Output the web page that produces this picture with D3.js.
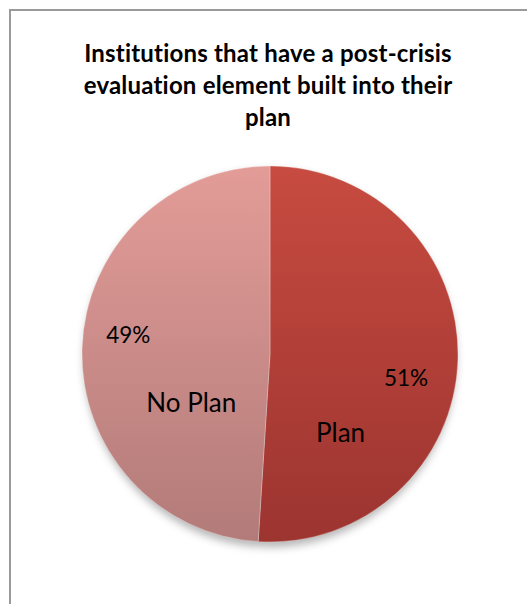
<!DOCTYPE html>
<html>
<head>
<meta charset="utf-8">
<script src="https://cdn.jsdelivr.net/npm/d3@7"></script>
<style>
  html, body { margin: 0; padding: 0; background: #fff; }
  svg { display: block; }
</style>
</head>
<body>
<svg id="chart" width="527" height="604"></svg>
<script>
// Survey result: share of institutions with a post-crisis evaluation in their plan
const categories = ["Plan", "No Plan"];
const values = [51, 49];
const titleLines = ["Institutions that have a post-crisis", "evaluation element built into their", "plan"];

const svg = d3.select("#chart");
const W = 527, H = 604;
const cx = 270, cy = 354, R = 188;
const FONT = "Lato, 'Open Sans', sans-serif";

// Chart frame
svg.append("rect")
  .attr("x", 10).attr("y", 10)
  .attr("width", W).attr("height", H)
  .attr("fill", "#fff")
  .attr("stroke", "#9a9a9a")
  .attr("stroke-width", 2);

const defs = svg.append("defs");

// Vertical gradients for each slice
const gradStops = {
  "Plan": ["#c74b40", "#9c3430"],
  "No Plan": ["#e39c98", "#b27b79"]
};
categories.forEach((c, i) => {
  const g = defs.append("linearGradient")
    .attr("id", "grad" + i)
    .attr("gradientUnits", "userSpaceOnUse")
    .attr("x1", 0).attr("y1", -R).attr("x2", 0).attr("y2", R);
  g.append("stop").attr("offset", "0%").attr("stop-color", gradStops[c][0]);
  g.append("stop").attr("offset", "100%").attr("stop-color", gradStops[c][1]);
});

// Soft shadow under the pie
const shadow = defs.append("filter").attr("id", "shadow")
  .attr("x", "-20%").attr("y", "-20%").attr("width", "140%").attr("height", "140%");
shadow.append("feGaussianBlur").attr("stdDeviation", 4);

// Title
const title = svg.append("text")
  .attr("text-anchor", "middle")
  .attr("font-family", FONT)
  .attr("font-weight", "bold")
  .attr("font-size", 24)
  .attr("letter-spacing", 0.2)
  .attr("fill", "#000");
titleLines.forEach((t, i) => {
  title.append("tspan").attr("x", 268).attr("y", 62 + i * 32).text(t);
});

const pie = d3.pie().sort(null).value(d => d)
  .startAngle(0).endAngle(2 * Math.PI);
const arcs = pie(values);
const arc = d3.arc().innerRadius(0).outerRadius(R);

const g = svg.append("g").attr("transform", `translate(${cx},${cy})`);

g.append("ellipse")
  .attr("cx", 0).attr("cy", 5)
  .attr("rx", R - 2).attr("ry", R)
  .attr("fill", "#777")
  .attr("opacity", 0.55)
  .attr("filter", "url(#shadow)");

g.selectAll("path.slice")
  .data(arcs)
  .join("path")
  .attr("class", "slice")
  .attr("d", arc)
  .attr("fill", (d, i) => `url(#grad${i})`)
  .attr("stroke", "rgba(255,255,255,0.35)")
  .attr("stroke-width", 0.8);

// Label placement: polar position relative to each slice's mid angle
// [angle shift in degrees, radius in px]
const pctPlace = [[8, 138], [6, 143]];
const catPlace = [[46, 105], [-33, 92]];
const total = d3.sum(values);

function polar(d, place) {
  const a = (d.startAngle + d.endAngle) / 2 + place[0] * Math.PI / 180;
  return [Math.sin(a) * place[1], -Math.cos(a) * place[1]];
}

g.selectAll("text.pct")
  .data(arcs)
  .join("text")
  .attr("class", "pct")
  .attr("text-anchor", "middle")
  .attr("dominant-baseline", "central")
  .attr("font-family", FONT)
  .attr("font-size", 22.5)
  .attr("fill", "#000")
  .attr("transform", (d, i) => `translate(${polar(d, pctPlace[i])})`)
  .text(d => Math.round(d.data / total * 100) + "%");

g.selectAll("text.cat")
  .data(arcs)
  .join("text")
  .attr("class", "cat")
  .attr("text-anchor", "middle")
  .attr("dominant-baseline", "central")
  .attr("font-family", FONT)
  .attr("font-size", 26)
  .attr("fill", "#000")
  .attr("transform", (d, i) => `translate(${polar(d, catPlace[i])})`)
  .text((d, i) => categories[i]);
</script>
</body>
</html>
